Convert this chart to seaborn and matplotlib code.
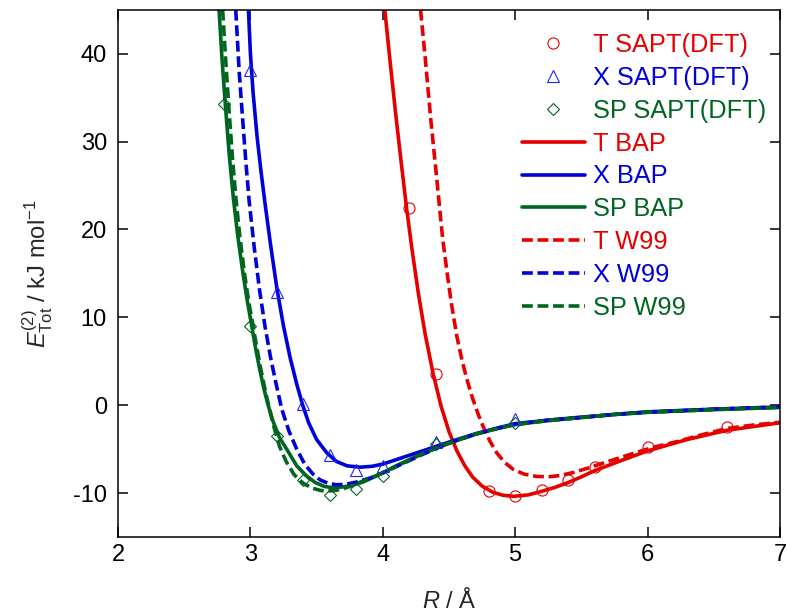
import matplotlib
matplotlib.use("Agg")
import matplotlib.pyplot as plt
from matplotlib.lines import Line2D
import seaborn as sns
import pandas as pd

# ---------------- data ----------------
# SAPT(DFT) points
T_sapt_x = [4.2, 4.4, 4.8, 5.0, 5.2, 5.4, 5.6, 6.0, 6.6]
T_sapt_y = [22.4, 3.5, -9.8, -10.35, -9.7, -8.5, -7.05, -4.8, -2.5]
X_sapt_x = [3.0, 3.2, 3.4, 3.6, 3.8, 4.0, 4.4, 5.0]
X_sapt_y = [38.2, 12.9, 0.1, -5.7, -7.4, -6.9, -4.2, -1.6]
SP_sapt_x = [2.8, 3.0, 3.2, 3.4, 3.6, 3.8, 4.0, 4.4, 5.0]
SP_sapt_y = [34.3, 9.0, -3.5, -8.5, -10.2, -9.55, -8.0, -4.4, -2.0]

# BAP curves
T_bap_x = [4.015, 4.06, 4.10, 4.14, 4.18, 4.22, 4.27, 4.32, 4.38, 4.44, 4.50, 4.56, 4.62,
           4.68, 4.75, 4.83, 4.91, 4.99, 5.1, 5.2, 5.3, 5.4, 5.5, 5.6, 5.8, 6.0, 6.3,
           6.6, 7.0]
T_bap_y = [45, 38.4, 32.8, 27.5, 22.4, 17.8, 12.6, 8.1, 3.6, -0.1, -3.0, -5.2, -6.9,
           -8.2, -9.2, -9.9, -10.25, -10.37, -10.2, -9.8, -9.35, -8.8, -8.15, -7.45, -6.3,
           -5.2, -3.9, -2.85, -2.0]
X_bap_x = [2.985, 3.0, 3.02, 3.05, 3.08, 3.11, 3.15, 3.2, 3.25, 3.3, 3.35, 3.395, 3.44,
           3.5, 3.576, 3.65, 3.73, 3.83, 3.92, 4.0, 4.1, 4.2, 4.3, 4.42, 4.53, 4.7, 4.85,
           5.0, 5.25, 5.5, 5.75, 6.0, 6.5, 7.0]
X_bap_y = [45, 40.0, 35.6, 30.6, 26.6, 23.0, 18.5, 13.3, 9.0, 5.4, 2.4, 0.0, -2.0,
           -3.9, -5.4, -6.4, -6.9, -7.05, -6.95, -6.7, -6.2, -5.7, -5.2, -4.6, -4.05,
           -3.25, -2.65, -2.1, -1.7, -1.35, -1.05, -0.75, -0.45, -0.2]
SP_bap_x = [2.763, 2.785, 2.81, 2.84, 2.871, 2.905, 2.94, 2.975, 3.01, 3.04, 3.07, 3.1,
            3.13, 3.17, 3.22, 3.286, 3.35, 3.42, 3.49, 3.56, 3.62, 3.7, 3.77, 3.85, 3.93,
            4.0, 4.1, 4.2, 4.3, 4.42, 4.53, 4.7, 4.85, 5.0, 5.25, 5.5, 5.75, 6.0, 6.5,
            7.0]
SP_bap_y = [45, 39.5, 34.3, 28.5, 23.6, 19.2, 15.4, 12.0, 9.0, 6.4, 4.1, 2.0,
            0.2, -1.8, -3.7, -5.3, -6.9, -8.0, -8.8, -9.25, -9.38, -9.3, -9.1, -8.75, -8.2,
            -7.7, -6.9, -6.2, -5.5, -4.8, -4.15, -3.3, -2.7, -2.2, -1.75, -1.4, -1.05,
            -0.8, -0.5, -0.25]

# W99 curves
T_w99_x = [4.285, 4.32, 4.36, 4.41, 4.452, 4.49, 4.52, 4.56, 4.60, 4.64, 4.68, 4.72,
           4.76, 4.81, 4.86, 4.92, 4.985, 5.07, 5.16, 5.25, 5.34, 5.44, 5.54, 5.69, 5.89,
           6.04, 6.22, 6.4, 6.6, 6.8, 7.0]
T_w99_y = [45, 39.6, 32.9, 25.4, 19.0, 14.6, 11.4, 7.8, 5.0, 2.7, 0.7, -1.0,
           -2.5, -4.1, -5.4, -6.5, -7.3, -7.85, -8.1, -8.15, -8.0, -7.65, -7.2, -6.46, -5.5,
           -4.8, -4.15, -3.4, -2.65, -2.25, -1.95]
X_w99_x = [2.889, 2.915, 2.94, 2.965, 2.99, 3.03, 3.07, 3.11, 3.15, 3.19, 3.236, 3.29,
           3.35, 3.41, 3.47, 3.526, 3.59, 3.65, 3.72, 3.80, 3.90, 4.0, 4.1, 4.2, 4.3, 4.42,
           4.53, 4.7, 4.85, 5.0, 5.25, 5.5, 5.75, 6.0, 6.5, 7.0]
X_w99_y = [45, 38.0, 32.8, 27.8, 23.3, 17.8, 13.0, 9.0, 5.6, 2.7, -0.4, -2.9,
           -5.0, -6.7, -7.8, -8.5, -8.9, -9.05, -9.0, -8.75, -8.3, -7.7, -7.0, -6.3, -5.6,
           -4.8, -4.15, -3.3, -2.7, -2.15, -1.7, -1.4, -1.05, -0.8, -0.45, -0.2]
SP_w99_x = [2.79, 2.815, 2.84, 2.865, 2.89, 2.92, 2.955, 2.99, 3.02, 3.05, 3.08, 3.11,
            3.14, 3.18, 3.22, 3.27, 3.33, 3.40, 3.47, 3.53, 3.576, 3.64, 3.70, 3.77, 3.83,
            3.92, 4.0, 4.1, 4.2, 4.3, 4.42, 4.53, 4.7, 4.85, 5.0, 5.25, 5.5, 5.75, 6.0,
            6.5, 7.0]
SP_w99_y = [45, 38.8, 33.2, 28.0, 23.6, 19.2, 15.0, 11.5, 9.0, 6.4, 4.0, 1.8,
            -0.2, -2.6, -4.7, -6.4, -7.9, -8.9, -9.45, -9.7, -9.77, -9.7, -9.5, -9.15, -8.75,
            -8.2, -7.7, -6.95, -6.25, -5.5, -4.8, -4.15, -3.3, -2.7, -2.2, -1.75, -1.4,
            -1.05, -0.8, -0.5, -0.25]

x_ticks = [2, 3, 4, 5, 6, 7]
y_ticks = [-10, 0, 10, 20, 30, 40]

# ---------------- style ----------------
sns.set_theme(style="ticks")
plt.rcParams["font.family"] = ["Liberation Sans", "DejaVu Sans"]
plt.rcParams["mathtext.fontset"] = "custom"
plt.rcParams["mathtext.rm"] = "Liberation Sans"
plt.rcParams["mathtext.it"] = "Liberation Sans:italic"
plt.rcParams["mathtext.bf"] = "Liberation Sans:bold"

RED = "#e60000"
BLUE = "#0000d8"
GREEN = "#00661f"
LW = 2.6
DASH = (0, (3.0, 1.3))
FS = 17
LFS = 18.3

fig = plt.figure(figsize=(7.87, 6.12), dpi=100)
ax = fig.add_axes([0.15, 0.1225, 0.841, 0.8615])

def line(x, y, c, ls):
    df = pd.DataFrame({"x": x, "y": y})
    sns.lineplot(data=df, x="x", y="y", ax=ax, color=c, linewidth=LW,
                 linestyle=ls, estimator=None, sort=False, legend=False)

line(T_bap_x, T_bap_y, RED, "-")
line(X_bap_x, X_bap_y, BLUE, "-")
line(SP_bap_x, SP_bap_y, GREEN, "-")
line(T_w99_x, T_w99_y, RED, DASH)
line(X_w99_x, X_w99_y, BLUE, DASH)
line(SP_w99_x, SP_w99_y, GREEN, DASH)

def pts(x, y, c, m, ms):
    df = pd.DataFrame({"x": x, "y": y})
    sns.lineplot(data=df, x="x", y="y", ax=ax, color=c, linestyle="",
                 marker=m, markersize=ms, mfc="none", mec=c, mew=0.8,
                 estimator=None, sort=False, legend=False)

pts(T_sapt_x, T_sapt_y, RED, "o", 8)
pts(X_sapt_x, X_sapt_y, "#2020ff", "^", 8)
pts(SP_sapt_x, SP_sapt_y, GREEN, "D", 6)

ax.set_xlim(2, 7)
ax.set_ylim(-15, 45)
ax.set_xticks(x_ticks)
ax.set_yticks(y_ticks)
ax.set_xticklabels([str(t) for t in x_ticks])
ax.set_yticklabels([str(t) for t in y_ticks])
ax.tick_params(direction="in", top=True, right=True, length=7, width=1.1,
               labelsize=FS, colors="black")
ax.tick_params(axis="x", pad=5)
ax.tick_params(axis="y", pad=8)
for s in ax.spines.values():
    s.set_linewidth(1.1)
    s.set_color("black")

ax.set_xlabel(r"$R$ / Å", fontsize=FS, labelpad=16)
ax.set_ylabel(r"$E_{\mathrm{Tot}}^{(2)}$ / kJ mol$^{-1}$", fontsize=FS, labelpad=13)

handles = [
    Line2D([], [], linestyle="", marker="o", ms=8, mfc="none", mec=RED, mew=0.8, color=RED),
    Line2D([], [], linestyle="", marker="^", ms=8, mfc="none", mec="#2020ff", mew=0.8, color=BLUE),
    Line2D([], [], linestyle="", marker="D", ms=6, mfc="none", mec=GREEN, mew=0.8, color=GREEN),
    Line2D([], [], color=RED, lw=LW),
    Line2D([], [], color=BLUE, lw=LW),
    Line2D([], [], color=GREEN, lw=LW),
    Line2D([], [], color=RED, lw=LW, linestyle=DASH),
    Line2D([], [], color=BLUE, lw=LW, linestyle=DASH),
    Line2D([], [], color=GREEN, lw=LW, linestyle=DASH),
]
labels = ["T SAPT(DFT)", "X SAPT(DFT)", "SP SAPT(DFT)", "T BAP", "X BAP", "SP BAP",
          "T W99", "X W99", "SP W99"]
cols = [RED, BLUE, GREEN] * 3
leg = ax.legend(handles, labels, loc="upper right", bbox_to_anchor=(1.006, 0.99),
                frameon=False, fontsize=LFS, handlelength=2.5, handletextpad=0.3,
                labelspacing=0.35, borderaxespad=0.3, numpoints=1)
for t, c in zip(leg.get_texts(), cols):
    t.set_color(c)

fig.savefig("out.png", dpi=100)
